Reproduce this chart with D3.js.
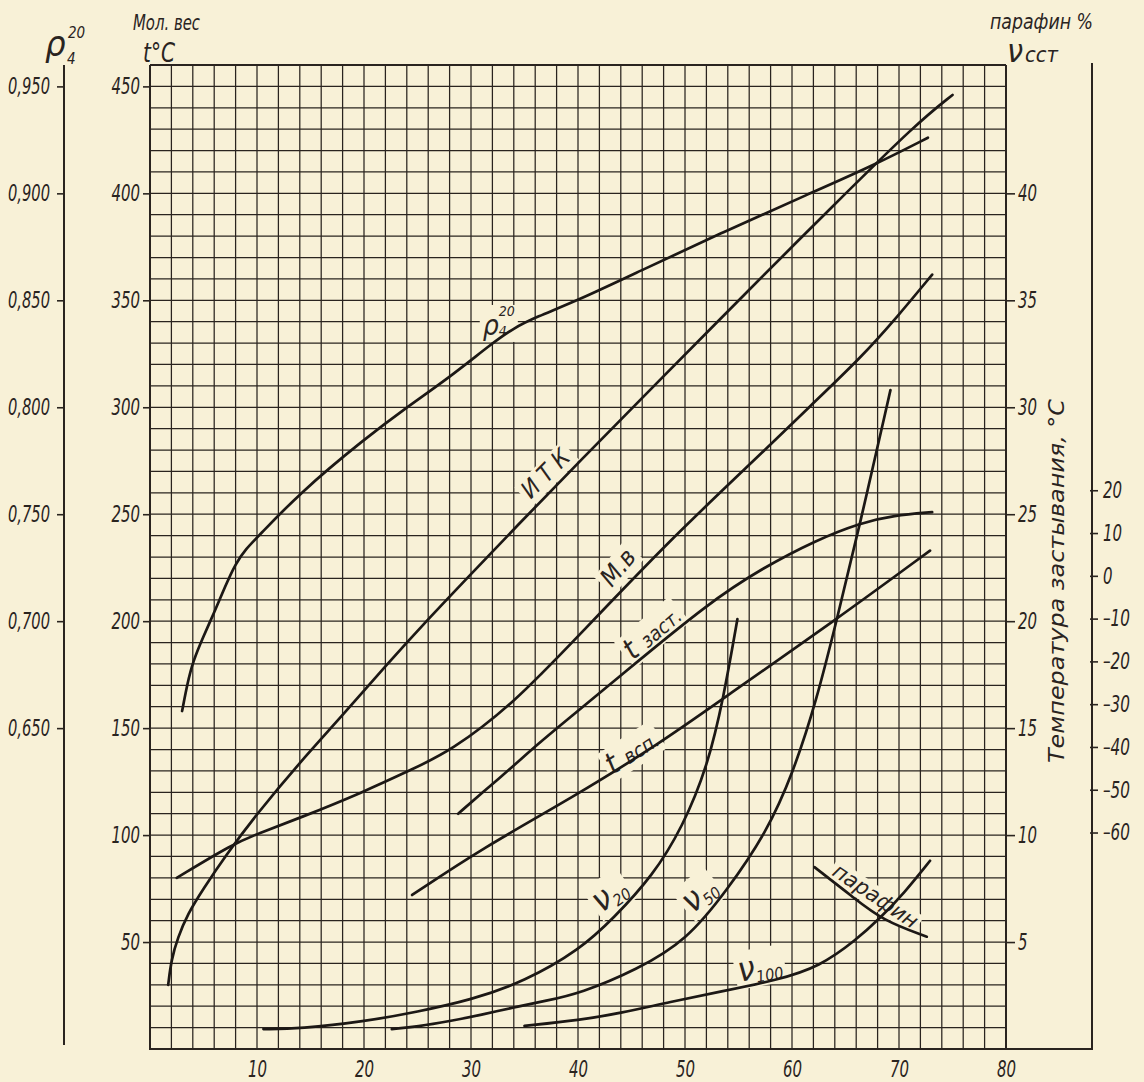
<!DOCTYPE html>
<html><head><meta charset="utf-8">
<script src="https://cdn.jsdelivr.net/npm/d3@7"></script>
<style>
body{margin:0;background:#f7f0d6;}
svg{display:block}
text{font-family:"DejaVu Sans Condensed","Liberation Sans Narrow","DejaVu Sans",sans-serif;font-stretch:condensed;font-style:italic;fill:#2a241f;}
.tick text{font-size:23px;}
</style></head><body>
<svg id="c" width="1144" height="1082"></svg>
<script>
// ---- tick labels ----
const xTickValues=[10,20,30,40,50,60,70,80];
const molTickValues=[50,100,150,200,250,300,350,400,450];
const rhoTickValues=[0.650,0.700,0.750,0.800,0.850,0.900,0.950];
const nuTickValues=[5,10,15,20,25,30,35,40];
const tempTickValues=[20,10,0,-10,-20,-30,-40,-50,-60];

// ---- series (x = % отгона, value in own units) ----
const rho20=[[3.0,0.658],[3.5,0.671],[4.0,0.681],[5,0.693],[6,0.704],[7,0.716],[8,0.727],[9,0.734],[10,0.739],[14,0.760],[20,0.785],[24,0.800],[28,0.814],[32,0.830],[34,0.837],[36,0.842],[40,0.850],[45.5,0.863],[53.6,0.882],[61.7,0.900],[67.6,0.913],[72.7,0.926]];
const itk=[[1.7,30],[2.0,42],[2.6,52],[3.5,63],[5,75],[7,90],[10,110],[14,134],[18,156],[22,179],[26,201],[30,222],[34,243],[40.2,275],[47.7,313],[55.8,354],[63.6,393],[71.7,433],[75,446]];
const molWeight=[[2.5,80],[7.8,96],[10,100.5],[14,108],[19.9,120],[24.6,131],[28,139],[33.9,161],[40.2,194],[48.6,238],[55.8,272],[62,302],[66.4,323],[69.8,342],[73.1,362]];
const tPour=[[28.8,-55.6],[31.1,-50.6],[33.9,-44.6],[36.2,-39.4],[39.3,-33],[43.6,-24.1],[52.3,-6.1],[57.3,1.9],[62.3,8.4],[66.4,12.4],[69.5,14.1],[73.1,14.9]];
const tFlash=[[24.5,72],[31.1,94],[39.3,117],[47.7,143],[53.6,164],[64.2,201],[72.9,233]];
const nu20=[[10.6,0.93],[14,0.95],[20,1.28],[25,1.74],[30,2.29],[35,3.15],[40.2,4.65],[43.3,6.1],[47,8.1],[49.8,10.4],[52.1,13.2],[53.6,16.4],[54.9,20.1]];
const nu50=[[22.6,0.93],[25,1.05],[28,1.3],[31,1.6],[34,1.95],[37,2.25],[40.2,2.6],[45.5,3.7],[50.2,5.1],[53.9,7.4],[57.6,10.1],[60.1,12.9],[62.3,16.3],[64.2,20.1],[66.2,24.2],[69.2,30.8]];
const nu100=[[35,1.08],[40.2,1.35],[44,1.68],[48.6,2.2],[53.5,2.7],[58.6,3.22],[62.6,3.85],[66.0,5.1],[68.2,6.1],[70.5,7.3],[72.9,8.8]];
const paraffin=[[62.1,8.5],[65.7,7.1],[68.5,6.0],[72.6,5.25]];

const PAPER='#f8f1d7', INK='#2a241f';
const svg=d3.select('#c');
svg.append('rect').attr('width',1144).attr('height',1082).attr('fill',PAPER);

const x=d3.scaleLinear().domain([0,80]).range([150,1006]);
const yMol=d3.scaleLinear().domain([0,460]).range([1049,65]);
const yRho=d3.scaleLinear().domain([0.5,0.96]).range([1049,65]);
const yNu=d3.scaleLinear().domain([0,46]).range([1049,65]);
const yTemp=d3.scaleLinear().domain([-60,20]).range([yMol(101.2),yMol(261.2)]);

// grid
const grid=svg.append('g').attr('stroke',INK).attr('stroke-width',1.25);
grid.selectAll('line.v').data(d3.range(0,81,2)).join('line').attr('class','v')
  .attr('x1',d=>x(d)).attr('x2',d=>x(d)).attr('y1',yMol(0)).attr('y2',yMol(460));
grid.selectAll('line.h').data(d3.range(0,461,10)).join('line').attr('class','h')
  .attr('x1',x(0)).attr('x2',x(80)).attr('y1',d=>yMol(d)).attr('y2',d=>yMol(d));
// frame
const fr=svg.append('g').attr('stroke',INK).attr('stroke-width',2).attr('fill','none');
fr.append('line').attr('x1',x(0)-1).attr('x2',1093).attr('y1',yMol(0)).attr('y2',yMol(0));
fr.append('line').attr('x1',1092).attr('x2',1092).attr('y1',63).attr('y2',yMol(0));
fr.append('line').attr('x1',x(0)).attr('x2',x(0)).attr('y1',yMol(460)).attr('y2',yMol(0));
fr.append('line').attr('x1',x(80)).attr('x2',x(80)).attr('y1',yMol(460)).attr('y2',yMol(0));
fr.append('line').attr('x1',x(0)).attr('x2',x(80)).attr('y1',yMol(460)).attr('y2',yMol(460));

function styleAxis(g){
  g.attr('font-family',null).attr('font-size',null).attr('color',INK);
  g.select('.domain').remove();
  g.selectAll('.tick line').attr('stroke-width',1.6);
  g.selectAll('.tick text').each(function(){
    const s=this.textContent; let w=0;
    for(const ch of s){ w+= (ch===','?4:(ch==='–'?8:9.5)); }
    d3.select(this).attr('textLength',w).attr('lengthAdjust','spacingAndGlyphs');
  });
}
// axes
svg.append('g').attr('transform',`translate(0,${yMol(0)})`)
  .call(d3.axisBottom(x).tickValues(xTickValues).tickSize(0).tickPadding(12)).call(styleAxis);
svg.append('g').attr('transform',`translate(${x(0)},0)`)
  .call(d3.axisLeft(yMol).tickValues(molTickValues).tickSize(7).tickPadding(3)).call(styleAxis);
svg.append('g').attr('transform','translate(64,0)')
  .call(d3.axisLeft(yRho).tickValues(rhoTickValues).tickSize(7).tickPadding(7)
  .tickFormat(d=>d3.format('.3f')(d).replace('.',','))).call(styleAxis);
svg.append('line').attr('x1',64).attr('x2',64).attr('y1',yRho(0.96)).attr('y2',yRho(0.5)-4).attr('stroke',INK).attr('stroke-width',2);
svg.append('g').attr('transform',`translate(${x(80)},0)`)
  .call(d3.axisRight(yNu).tickValues(nuTickValues).tickSize(9).tickPadding(3)).call(styleAxis);
svg.append('g').attr('transform','translate(1090,0)')
  .call(d3.axisRight(yTemp).tickValues(tempTickValues).tickSize(8).tickPadding(5).tickFormat(d=>d<0?'–'+(-d):String(d))).call(styleAxis);

// titles
const T=svg.append('g');
T.append('text').attr('x',45).attr('y',56).style('font-size','36px').text('ρ');
T.append('text').attr('x',68).attr('y',38).style('font-size','15px').text('20');
T.append('text').attr('x',67).attr('y',64).style('font-size','15px').text('4');
T.append('text').attr('x',133).attr('y',30).style('font-size','22px').attr('textLength',67).attr('lengthAdjust','spacingAndGlyphs').text('Мол. вес');
T.append('text').attr('x',143).attr('y',62).style('font-size','26px').attr('textLength',32).attr('lengthAdjust','spacingAndGlyphs').text('t°C');
T.append('text').attr('x',990).attr('y',29).style('font-size','22px').attr('textLength',103).attr('lengthAdjust','spacingAndGlyphs').text('парафин %');
T.append('text').attr('x',1007).attr('y',62).style('font-size','32px').text('ν');
T.append('text').attr('x',1025).attr('y',62).style('font-size','22px').attr('textLength',33).attr('lengthAdjust','spacingAndGlyphs').text('сст');
T.append('text').attr('transform','translate(1064,581) rotate(-90)').attr('text-anchor','middle')
  .style('font-size','21px').attr('textLength',364).attr('lengthAdjust','spacingAndGlyphs').text('Температура застывания, °C');

// in-plot labels with paper background
function label(px,py,angle,build,pad){
  pad=pad||3;
  const g=svg.append('g').attr('transform',`translate(${px},${py}) rotate(${angle})`);
  const t=g.append('g');
  build(t);
  const b=t.node().getBBox();
  g.insert('rect',':first-child').attr('x',b.x-pad).attr('y',b.y+2).attr('width',b.width+2*pad).attr('height',b.height-2).attr('fill',PAPER);
}
label(x(31.1),yMol(333.8),0,t=>{
  t.append('text').attr('x',0).attr('y',0).style('font-size','28px').text('ρ');
  t.append('text').attr('x',16).attr('y',-19).style('font-size','14px').text('20');
  t.append('text').attr('x',16).attr('y',1).style('font-size','14px').text('4');
});
label(x(36.9),yMol(269.3),-45,t=>{
  t.append('text').attr('text-anchor','middle').attr('y',9).style('font-size','24px').attr('textLength',58).attr('lengthAdjust','spacing').text('ИТК');
});
label(x(43.7),yMol(225.3),-50,t=>{
  t.append('text').attr('text-anchor','middle').attr('y',9).style('font-size','25px').text('М.в');
});
label(x(46.9),yMol(195.0),-40,t=>{
  t.append('text').attr('text-anchor','middle').attr('y',10).style('font-size','20px')
   .call(s=>{s.append('tspan').style('font-size','30px').text('t ');s.append('tspan').text('заст.');});
});
label(x(45.0),yMol(139.3),-33,t=>{
  t.append('text').attr('text-anchor','middle').attr('y',10).style('font-size','20px')
   .call(s=>{s.append('tspan').style('font-size','30px').text('t ');s.append('tspan').text('всп.');});
});
function nuLabel(xx,mm,ang,sub){
  label(x(xx),yMol(mm),ang,t=>{
    t.append('text').attr('text-anchor','middle').attr('y',10).style('font-size','16px')
     .call(s=>{s.append('tspan').style('font-size','34px').text('ν');s.append('tspan').attr('dy',4).text(sub);});
  });
}
nuLabel(43.0,72,-35,'20');
nuLabel(51.4,72,-40,'50');
nuLabel(57.0,37.9,-10,'100');
label(x(67.8),yMol(71.5),34,t=>{
  t.append('text').attr('text-anchor','middle').attr('y',7).style('font-size','21px').attr('textLength',98).attr('lengthAdjust','spacingAndGlyphs').text('парафин');
});

// curves
const curves=[
  {d:rho20,y:yRho},{d:itk,y:yMol},{d:molWeight,y:yMol},{d:tPour,y:yTemp},{d:tFlash,y:yMol},
  {d:nu20,y:yNu},{d:nu50,y:yNu},{d:nu100,y:yNu},{d:paraffin,y:yNu}
];
const cg=svg.append('g').attr('fill','none').attr('stroke','#1c1815').attr('stroke-width',2.7).attr('stroke-linecap','round');
curves.forEach(c=>{
  cg.append('path').attr('d',d3.line().x(p=>x(p[0])).y(p=>c.y(p[1])).curve(d3.curveBasis)(c.d));
});
</script>
</body></html>
